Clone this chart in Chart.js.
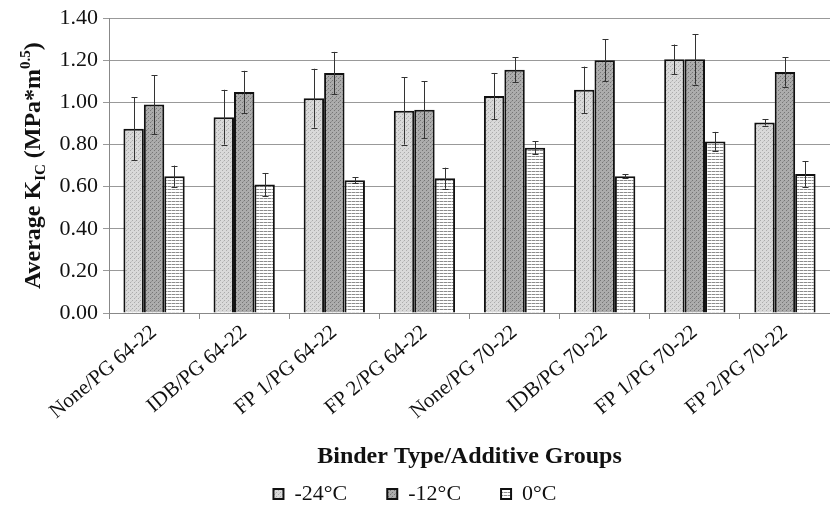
<!DOCTYPE html>
<html>
<head>
<meta charset="utf-8">
<script src="https://cdn.jsdelivr.net/npm/chart.js@4.4.1/dist/chart.umd.min.js"></script>
<style>
  html, body { margin: 0; padding: 0; background: #fff; }
  #wrap { width: 830px; height: 505px; }
</style>
</head>
<body>
<div id="wrap"><canvas id="kic"></canvas></div>
<script>
const groups = ['None/PG 64-22', 'IDB/PG 64-22', 'FP 1/PG 64-22', 'FP 2/PG 64-22',
                'None/PG 70-22', 'IDB/PG 70-22', 'FP 1/PG 70-22', 'FP 2/PG 70-22'];

const minus24 = [0.875, 0.93, 1.02, 0.96, 1.03, 1.06, 1.205, 0.905];
const minus12 = [0.99, 1.05, 1.14, 0.965, 1.155, 1.20, 1.205, 1.145];
const zeroC   = [0.65, 0.61, 0.63, 0.64, 0.785, 0.65, 0.815, 0.66];

const err24 = [0.15, 0.13, 0.14, 0.16, 0.11, 0.11, 0.07, 0.015];
const err12 = [0.14, 0.10, 0.10, 0.135, 0.06, 0.10, 0.12, 0.07];
const err0  = [0.05, 0.055, 0.015, 0.05, 0.03, 0.01, 0.045, 0.06];

const yTicks = [0, 0.2, 0.4, 0.6, 0.8, 1.0, 1.2, 1.4];

// little bitmap fills to mimic the printed stipple / hatching
function pattern(w, h, paint) {
  const c = document.createElement('canvas');
  c.width = w; c.height = h;
  const g = c.getContext('2d');
  paint(g);
  return g.createPattern(c, 'repeat');
}

const dotsLight = pattern(4, 4, g => {
  g.fillStyle = '#d9d9d9'; g.fillRect(0, 0, 4, 4);
  g.fillStyle = '#ababab'; g.fillRect(0, 0, 1, 1); g.fillRect(2, 2, 1, 1);
  g.fillStyle = '#c4c4c4'; g.fillRect(3, 1, 1, 1);
});
const dotsDark = pattern(4, 4, g => {
  g.fillStyle = '#acacac'; g.fillRect(0, 0, 4, 4);
  g.fillStyle = '#767676'; g.fillRect(0, 0, 1, 1); g.fillRect(2, 2, 1, 1);
  g.fillStyle = '#939393'; g.fillRect(3, 1, 1, 1);
});
const stripes = pattern(4, 3, g => {
  g.fillStyle = '#ffffff'; g.fillRect(0, 0, 4, 3);
  g.fillStyle = '#8c8c8c'; g.fillRect(0, 0, 3, 1);
  g.fillStyle = '#c8c8c8'; g.fillRect(3, 0, 1, 1);
});

const serif = "'Liberation Serif', 'DejaVu Serif', serif";

const errorBars = {
  id: 'errorBars',
  afterDatasetsDraw(chart) {
    const { ctx, scales: { y } } = chart;
    const errs = [err24, err12, err0];
    ctx.save();
    ctx.strokeStyle = '#333';
    ctx.lineWidth = 1;
    chart.data.datasets.forEach((ds, i) => {
      const meta = chart.getDatasetMeta(i);
      meta.data.forEach((bar, j) => {
        const v = ds.data[j], e = errs[i][j];
        const top = y.getPixelForValue(v + e);
        const bot = y.getPixelForValue(v - e);
        const x = Math.round(bar.x) + 0.5;
        ctx.beginPath();
        ctx.moveTo(x, top); ctx.lineTo(x, bot);
        ctx.moveTo(x - 3, Math.round(top) + 0.5); ctx.lineTo(x + 3, Math.round(top) + 0.5);
        ctx.moveTo(x - 3, Math.round(bot) + 0.5); ctx.lineTo(x + 3, Math.round(bot) + 0.5);
        ctx.stroke();
      });
    });
    ctx.restore();
  }
};

// y title needs a subscript and a superscript, so it is drawn by hand
const yTitle = {
  id: 'yTitle',
  afterDraw(chart) {
    const { ctx, chartArea } = chart;
    const big = 'bold 24px ' + serif;
    const small = 'bold 15px ' + serif;
    const runs = [
      { t: 'Average K', f: big, dy: 0 },
      { t: 'IC', f: small, dy: 5 },
      { t: ' (MPa*m', f: big, dy: 0 },
      { t: '0.5', f: small, dy: -10 },
      { t: ')', f: big, dy: 0 }
    ];
    ctx.save();
    let total = 0;
    runs.forEach(r => { ctx.font = r.f; r.w = ctx.measureText(r.t).width; total += r.w; });
    ctx.translate(40, (chartArea.top + chartArea.bottom) / 2);
    ctx.rotate(-Math.PI / 2);
    ctx.fillStyle = '#111';
    ctx.textBaseline = 'alphabetic';
    let x = -total / 2;
    runs.forEach(r => { ctx.font = r.f; ctx.fillText(r.t, x, r.dy); x += r.w; });
    ctx.restore();
  }
};

new Chart(document.getElementById('kic'), {
  type: 'bar',
  data: {
    labels: groups,
    datasets: [
      { label: '-24°C', data: minus24, backgroundColor: dotsLight },
      { label: '-12°C', data: minus12, backgroundColor: dotsDark },
      { label: '0°C', data: zeroC, backgroundColor: stripes }
    ]
  },
  options: {
    responsive: true,
    maintainAspectRatio: false,
    animation: false,
    layout: { padding: { top: 6, right: 0, bottom: -10, left: 0 } },
    datasets: {
      bar: {
        borderColor: '#111',
        borderWidth: 2,
        categoryPercentage: 0.68,
        barPercentage: 1.0
      }
    },
    plugins: {
      tooltip: { enabled: false },
      legend: {
        position: 'bottom',
        labels: {
          boxWidth: 10,
          boxHeight: 10,
          padding: 40,
          color: '#111',
          font: { family: serif, size: 22 }
        }
      }
    },
    scales: {
      x: {
        grid: { offset: true, drawOnChartArea: false, drawTicks: true, tickLength: 6, color: '#888' },
        border: { color: '#888' },
        ticks: {
          autoSkip: false,
          minRotation: 40,
          maxRotation: 40,
          padding: 1,
          color: '#111',
          font: { family: serif, size: 21 }
        },
        title: {
          display: true,
          text: 'Binder Type/Additive Groups',
          color: '#111',
          font: { family: serif, size: 24, weight: 'bold' },
          padding: { top: 0, bottom: -28 }
        },
        afterFit(scale) { scale.height = 130; }
      },
      y: {
        min: 0,
        max: 1.4,
        afterBuildTicks(scale) { scale.ticks = yTicks.map(v => ({ value: v })); },
        grid: { color: '#999', tickLength: 6, lineWidth: 1 },
        border: { color: '#888' },
        ticks: {
          padding: 5,
          color: '#111',
          font: { family: serif, size: 22 },
          callback: v => Number(v).toFixed(2)
        },
        afterFit(scale) { scale.width = 109; }
      }
    }
  },
  plugins: [errorBars, yTitle]
});
</script>
</body>
</html>
